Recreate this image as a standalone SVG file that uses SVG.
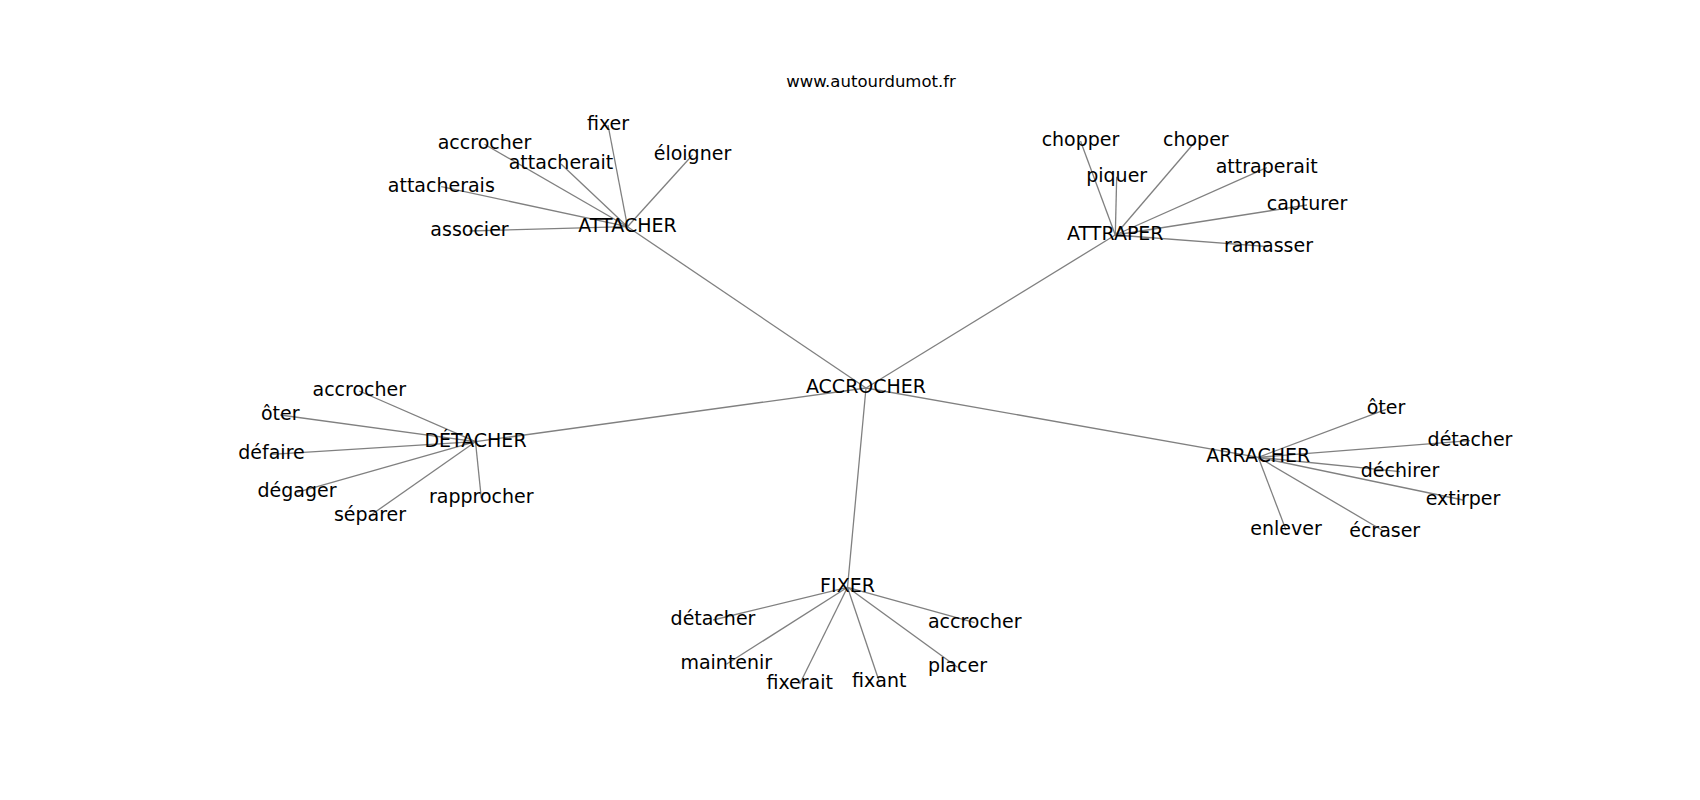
<svg xmlns="http://www.w3.org/2000/svg" width="1700" height="800" viewBox="0 0 1700 800">
<style>
.e{stroke:#808080;stroke-width:1.3;fill:none}
.n text{font-family:"DejaVu Sans","Liberation Sans",sans-serif;font-size:19px;fill:#000;text-anchor:middle}
.t{font-family:"DejaVu Sans","Liberation Sans",sans-serif;font-size:16.5px;fill:#000;text-anchor:middle}
</style>
<rect width="1700" height="800" fill="#fff"/>
<text class="t" x="871" y="87">www.autourdumot.fr</text>
<g id="edges">
<line class="e" x1="866" y1="388" x2="627.5" y2="226.7"/>
<line class="e" x1="866" y1="388" x2="1115.3" y2="235"/>
<line class="e" x1="866" y1="388" x2="475.5" y2="441.7"/>
<line class="e" x1="866" y1="388" x2="1258.3" y2="457.3"/>
<line class="e" x1="866" y1="388" x2="847.5" y2="587.3"/>
<line class="e" x1="627.5" y1="226.7" x2="608" y2="125"/>
<line class="e" x1="627.5" y1="226.7" x2="484.5" y2="144.3"/>
<line class="e" x1="627.5" y1="226.7" x2="561" y2="164"/>
<line class="e" x1="627.5" y1="226.7" x2="692.5" y2="155"/>
<line class="e" x1="627.5" y1="226.7" x2="441.3" y2="186.7"/>
<line class="e" x1="627.5" y1="226.7" x2="469.5" y2="231"/>
<line class="e" x1="1115.3" y1="235" x2="1080.5" y2="141"/>
<line class="e" x1="1115.3" y1="235" x2="1116.7" y2="176.7"/>
<line class="e" x1="1115.3" y1="235" x2="1195.8" y2="141"/>
<line class="e" x1="1115.3" y1="235" x2="1266.7" y2="167.7"/>
<line class="e" x1="1115.3" y1="235" x2="1307" y2="205"/>
<line class="e" x1="1115.3" y1="235" x2="1268.5" y2="246.7"/>
<line class="e" x1="475.5" y1="441.7" x2="359.3" y2="391"/>
<line class="e" x1="475.5" y1="441.7" x2="280.3" y2="415"/>
<line class="e" x1="475.5" y1="441.7" x2="271.5" y2="454.3"/>
<line class="e" x1="475.5" y1="441.7" x2="297" y2="492.3"/>
<line class="e" x1="475.5" y1="441.7" x2="370" y2="515.7"/>
<line class="e" x1="475.5" y1="441.7" x2="481.3" y2="498.3"/>
<line class="e" x1="1258.3" y1="457.3" x2="1386" y2="409.3"/>
<line class="e" x1="1258.3" y1="457.3" x2="1470" y2="440.7"/>
<line class="e" x1="1258.3" y1="457.3" x2="1400" y2="471.7"/>
<line class="e" x1="1258.3" y1="457.3" x2="1463" y2="500"/>
<line class="e" x1="1258.3" y1="457.3" x2="1286" y2="530"/>
<line class="e" x1="1258.3" y1="457.3" x2="1384.7" y2="531.7"/>
<line class="e" x1="847.5" y1="587.3" x2="713" y2="620"/>
<line class="e" x1="847.5" y1="587.3" x2="974.7" y2="622.7"/>
<line class="e" x1="847.5" y1="587.3" x2="726.3" y2="664.3"/>
<line class="e" x1="847.5" y1="587.3" x2="799.7" y2="684"/>
<line class="e" x1="847.5" y1="587.3" x2="879.3" y2="681.7"/>
<line class="e" x1="847.5" y1="587.3" x2="957.5" y2="667.3"/>
</g>
<g class="n">
<g id="n-accrocher"><text x="866" y="393.3">ACCROCHER</text></g>
<g id="n-attacher"><text x="627.5" y="231.7">ATTACHER</text></g>
<g id="n-attacher-fixer"><text x="608" y="130">fixer</text></g>
<g id="n-attacher-accrocher"><text x="484.5" y="149.3">accrocher</text></g>
<g id="n-attacher-attacherait"><text x="561" y="169">attacherait</text></g>
<g id="n-attacher-eloigner"><text x="692.5" y="160">éloigner</text></g>
<g id="n-attacher-attacherais"><text x="441.3" y="191.7">attacherais</text></g>
<g id="n-attacher-associer"><text x="469.5" y="236">associer</text></g>
<g id="n-attraper"><text x="1115.3" y="240">ATTRAPER</text></g>
<g id="n-attraper-chopper"><text x="1080.5" y="146">chopper</text></g>
<g id="n-attraper-piquer"><text x="1116.7" y="181.7">piquer</text></g>
<g id="n-attraper-choper"><text x="1195.8" y="146">choper</text></g>
<g id="n-attraper-attraperait"><text x="1266.7" y="172.7">attraperait</text></g>
<g id="n-attraper-capturer"><text x="1307" y="210">capturer</text></g>
<g id="n-attraper-ramasser"><text x="1268.5" y="251.7">ramasser</text></g>
<g id="n-detacher"><text x="475.5" y="446.7">DÉTACHER</text></g>
<g id="n-detacher-accrocher"><text x="359.3" y="396">accrocher</text></g>
<g id="n-detacher-oter"><text x="280.3" y="420">ôter</text></g>
<g id="n-detacher-defaire"><text x="271.5" y="459.3">défaire</text></g>
<g id="n-detacher-degager"><text x="297" y="497.3">dégager</text></g>
<g id="n-detacher-separer"><text x="370" y="520.7">séparer</text></g>
<g id="n-detacher-rapprocher"><text x="481.3" y="503.3">rapprocher</text></g>
<g id="n-arracher"><text x="1258.3" y="462.3">ARRACHER</text></g>
<g id="n-arracher-oter"><text x="1386" y="414.3">ôter</text></g>
<g id="n-arracher-detacher"><text x="1470" y="445.7">détacher</text></g>
<g id="n-arracher-dechirer"><text x="1400" y="476.7">déchirer</text></g>
<g id="n-arracher-extirper"><text x="1463" y="505">extirper</text></g>
<g id="n-arracher-enlever"><text x="1286" y="535">enlever</text></g>
<g id="n-arracher-ecraser"><text x="1384.7" y="536.7">écraser</text></g>
<g id="n-fixer"><text x="847.5" y="592.3">FIXER</text></g>
<g id="n-fixer-detacher"><text x="713" y="625">détacher</text></g>
<g id="n-fixer-accrocher"><text x="974.7" y="627.7">accrocher</text></g>
<g id="n-fixer-maintenir"><text x="726.3" y="669.3">maintenir</text></g>
<g id="n-fixer-fixerait"><text x="799.7" y="689">fixerait</text></g>
<g id="n-fixer-fixant"><text x="879.3" y="686.7">fixant</text></g>
<g id="n-fixer-placer"><text x="957.5" y="672.3">placer</text></g>
</g>
</svg>
